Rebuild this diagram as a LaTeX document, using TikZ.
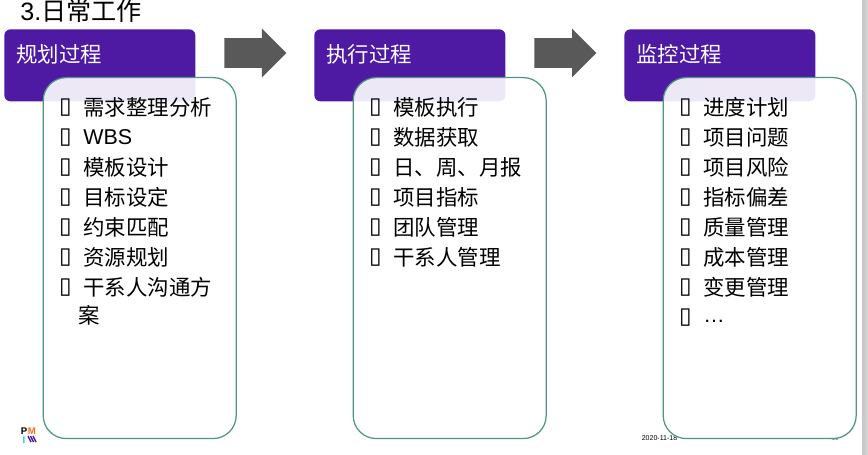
\documentclass[tikz,border=0pt]{standalone}
\usepackage{fontspec}
\setmainfont{Liberation Sans}
\newfontfamily\cjk{Noto Sans CJK SC}
\newfontfamily\boxfont{DejaVu Sans}
\usetikzlibrary{shapes.arrows}
\definecolor{PMPurple}{HTML}{4F1AA3}
\definecolor{PMGreen}{HTML}{4F9484}
\definecolor{PMGrey}{HTML}{595959}
\definecolor{PMOrange}{HTML}{FF6A21}
\definecolor{PMCyan}{HTML}{1CC4E8}
\begin{document}
\begin{tikzpicture}[x=0.02cm,y=-0.02cm,
    headbox/.style={draw=none,fill=PMPurple,rounded corners=0.12cm,anchor=north west,
      minimum width=3.82cm,minimum height=1.44cm,inner sep=0pt},
    headlabel/.style={anchor=west,text=white,inner sep=0pt,font=\fontsize{12.2}{12.2}\selectfont\cjk},
    listbox/.style={draw=PMGreen,line width=0.7pt,fill=white,fill opacity=0.9,rounded corners=0.46cm,anchor=north west,
      minimum width=3.86cm,minimum height=7.22cm,inner sep=0pt},
    stepArrow/.style={single arrow,fill=PMGrey,inner xsep=0pt,inner ysep=0.29cm,minimum height=1.24cm,minimum width=0.96cm,
      single arrow head extend=0.19cm,single arrow head indent=0pt,anchor=tail},
    tofu/.style={anchor=center,inner sep=0pt,font=\fontsize{13}{13}\selectfont\boxfont},
    item/.style={anchor=west,inner sep=0pt,font=\fontsize{12.2}{12.2}\selectfont\cjk},
    small/.style={inner sep=0pt,font=\fontsize{4}{4}\selectfont},
    logo/.style={inner sep=0pt,font=\fontsize{5.5}{5.5}\selectfont\bfseries}
  ]
  \useasboundingbox (0,0) rectangle (868,455);
  \shade[left color=gray!45,right color=gray!30] (862,0) rectangle (868,455);
  % footer
  \node[small] (date) at (659.5,438) {2020-11-18};
  \node[small,text=PMGreen] (pageno) at (835,438) {11};
  \node[logo,text=black] (logop) at (24,431) {P};
  \node[logo,text=PMOrange] (logom) at (32,431) {M};
  \node[logo,text=PMCyan] (logoi) at (24,440) {I};
  \foreach \d in {0,2.5,5}
    \draw[PMPurple,line width=0.8pt] (28+\d,436) -- (31+\d,442);
  % title
  \node[anchor=west,inner sep=0pt,font=\fontsize{14.3}{14.3}\selectfont] (title) at (20,11) {3.{\cjk 日常工作}};
  % columns
  \node[headbox] (plan) at (4,29) {};
  \node[headbox] (exec) at (314,29) {};
  \node[headbox] (ctrl) at (624,29) {};
  \node[headlabel] (planlabel) at (16,54) {规划过程};
  \node[headlabel] (execlabel) at (326,54) {执行过程};
  \node[headlabel] (ctrllabel) at (636,54) {监控过程};
  \node[stepArrow] (arrowa) at (224,53) {};
  \node[stepArrow] (arrowb) at (534,53) {};
  \node[listbox] (planlist) at (42.6,77) {};
  \node[listbox] (execlist) at (352.6,77) {};
  \node[listbox] (ctrllist) at (662.6,77) {};
  % lists
  \foreach \txt [count=\i] in {需求整理分析,{\rmfamily WBS},模板设计,目标设定,约束匹配,资源规划,干系人沟通方}{
    \node[tofu] (planb\i) at (65.5,77.5+30*\i) {▯};
    \node[item] (plani\i) at (83,77.5+30*\i) {\txt};
  }
  \node[item] (plani8) at (78,315) {案};
  \foreach \txt [count=\i] in {模板执行,数据获取,日、周、月报,项目指标,团队管理,干系人管理}{
    \node[tofu] (execb\i) at (375.5,77.5+30*\i) {▯};
    \node[item] (execi\i) at (393,77.5+30*\i) {\txt};
  }
  \foreach \txt [count=\i] in {进度计划,项目问题,项目风险,指标偏差,质量管理,成本管理,变更管理}{
    \node[tofu] (ctrlb\i) at (685.5,77.5+30*\i) {▯};
    \node[item] (ctrli\i) at (703,77.5+30*\i) {\txt};
  }
  \node[tofu] (ctrlb8) at (685.5,317.5) {▯};
  \node[anchor=west,inner sep=0pt,font=\fontsize{12.2}{12.2}\selectfont] (ctrli8) at (703,321) {…};
\end{tikzpicture}
\end{document}
